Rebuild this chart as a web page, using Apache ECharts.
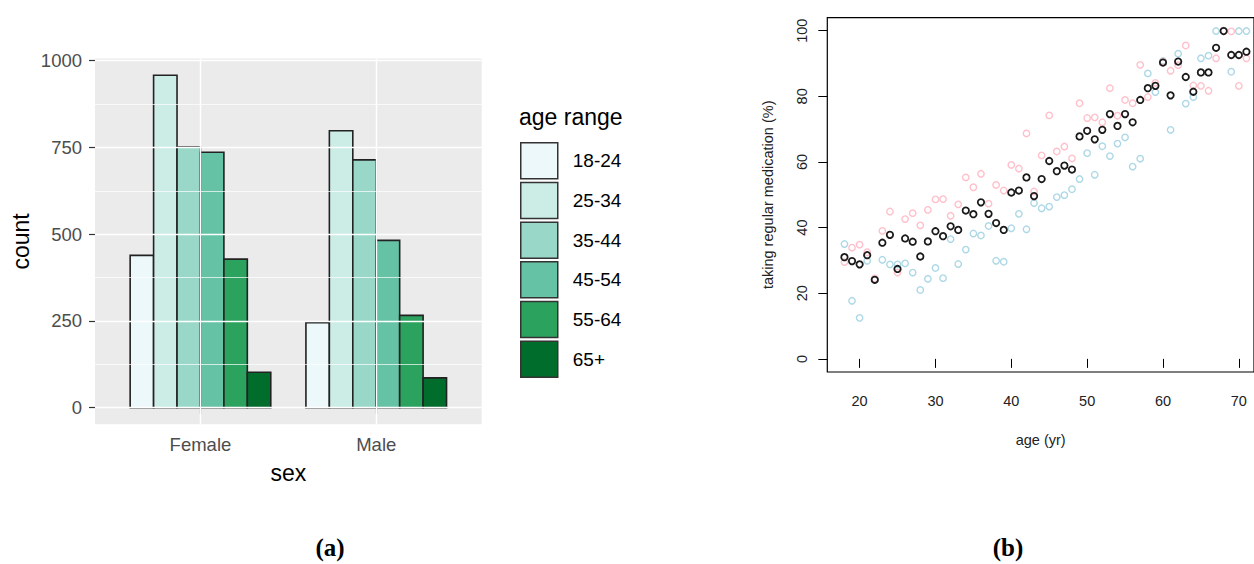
<!DOCTYPE html>
<html>
<head>
<meta charset="utf-8">
<script src="https://cdn.jsdelivr.net/npm/echarts@6/dist/echarts.min.js"></script>
<style>html,body{margin:0;padding:0;background:#fff}#c{width:1254px;height:564px}</style>
</head>
<body>
<div id="c"></div>
<script>
// ---- (a) bar chart data ----
const sexes = ['Female', 'Male'];
const ageRanges = ['18-24', '25-34', '35-44', '45-54', '55-64', '65+'];
const count_18_24 = [439, 245];
const count_25_34 = [958, 798];
const count_35_44 = [751, 714];
const count_45_54 = [736, 482];
const count_55_64 = [428, 266];
const count_65p = [102, 86];
const countTicks = [0, 250, 500, 750, 1000];
const countMinor = [125, 375, 625, 875];

// ---- (b) scatter data ----
const ages = [18,19,20,21,22,23,24,25,26,27,28,29,30,31,32,33,34,35,36,37,38,39,40,41,42,43,44,45,46,47,48,49,50,51,52,53,54,55,56,57,58,59,60,61,62,63,64,65,66,67,68,69,70,71];
const medAll = [31.0,29.8,28.8,31.6,24.1,35.4,37.8,27.4,36.7,35.7,31.2,35.8,38.9,37.4,40.4,39.3,45.2,44.1,47.7,44.2,41.4,39.3,50.7,51.3,55.3,49.6,54.8,60.3,57.2,58.9,57.7,67.8,69.5,66.9,69.8,74.6,71.0,74.6,72.1,78.9,82.5,83.2,90.3,80.3,90.6,85.9,81.4,87.3,87.3,94.8,99.9,92.6,92.6,93.6];
const medFemale = [29.5,33.9,34.8,32.5,24.5,39.0,44.9,26.3,42.6,44.4,40.7,45.4,48.6,48.7,43.6,47.1,55.3,52.3,56.4,47.3,53.0,51.3,59.1,58.0,68.7,51.0,62.0,74.2,63.2,64.7,61.1,77.9,73.4,73.6,72.1,82.5,74.1,78.9,77.9,89.6,79.8,84.1,90.6,87.8,89.5,95.5,83.3,83.2,81.7,91.6,100,99.8,83.2,91.6];
const medMale = [35.0,17.7,12.5,29.9,24.0,30.2,28.8,28.8,29.1,26.3,21.0,24.4,27.7,24.6,36.5,28.9,33.3,38.2,37.6,40.5,29.9,29.6,39.8,44.2,39.5,47.5,45.9,46.4,49.3,49.9,51.7,54.8,62.7,56.1,64.8,61.8,65.6,67.5,58.6,61.0,87.0,81.3,90.8,69.8,93.0,77.8,79.8,91.6,92.4,99.9,100,87.5,99.9,99.9];
const ageTicks = [20, 30, 40, 50, 60, 70];
const medTicks = [0, 20, 40, 60, 80, 100];

const counts = [count_18_24, count_25_34, count_35_44, count_45_54, count_55_64, count_65p];
const barColors = ['#EDF8FB', '#CCECE6', '#99D8C9', '#66C2A4', '#2CA25F', '#006D2C'];
const FONT = 'Liberation Sans, Arial, sans-serif';
const GROUP_W = 0.8;
const BAR_W = GROUP_W / ageRanges.length;

const chart = echarts.init(document.getElementById('c'), null, {renderer: 'svg'});

const barSeries = ageRanges.map((name, k) => ({
  type: 'custom',
  name: name,
  xAxisIndex: 0, yAxisIndex: 0,
  z: 3,
  itemStyle: {color: barColors[k]},
  encode: {x: 0, y: 1},
  data: sexes.map((s, i) => [i + 1, counts[k][i]]),
  renderItem: function (params, api) {
    const x0 = api.value(0) - GROUP_W / 2 + k * BAR_W;
    const p1 = api.coord([x0, api.value(1)]);
    const p2 = api.coord([x0 + BAR_W, 0]);
    return {
      type: 'rect',
      shape: {x: p1[0], y: p1[1], width: p2[0] - p1[0], height: p2[1] - p1[1]},
      style: {fill: barColors[k], stroke: '#222', lineWidth: 1.6}
    };
  }
}));

const gridSeries = {
  type: 'line', xAxisIndex: 0, yAxisIndex: 0, data: [], z: 1, silent: true,
  markLine: {
    silent: true, symbol: ['none', 'none'], animation: false,
    label: {show: false},
    data: [
      ...countMinor.map(v => ({yAxis: v, lineStyle: {color: '#fff', width: 0.7, type: 'solid'}})),
      ...countTicks.map(v => ({yAxis: v, lineStyle: {color: '#fff', width: 1.4, type: 'solid'}})),
      ...sexes.map((s, i) => ({xAxis: i + 1, lineStyle: {color: '#fff', width: 1.4, type: 'solid'}}))
    ]
  }
};

function scatter(name, data, color, bw, z) {
  return {
    type: 'scatter', name: name, xAxisIndex: 1, yAxisIndex: 1, z: z,
    symbol: 'circle', symbolSize: 6.4,
    itemStyle: {color: 'rgba(0,0,0,0)', borderColor: color, borderWidth: bw, opacity: 1},
    data: ages.map((a, i) => [a, data[i]])
  };
}

const option = {
  animation: false,
  backgroundColor: '#fff',
  textStyle: {fontFamily: FONT},
  title: [
    {text: 'age range', left: 519, top: 105, padding: 0,
     textStyle: {fontFamily: FONT, fontSize: 23, fontWeight: 'normal', color: '#000'}},
    {text: '{p|(}{b|a}{p|)}', left: 330, top: 535, padding: 0, textAlign: 'center',
     textStyle: {rich: {p: {fontFamily: 'Liberation Serif', fontSize: 25, color: '#000'},
                        b: {fontFamily: 'Liberation Serif', fontSize: 25, fontWeight: 'bold', color: '#000'}}}},
    {text: '{p|(}{b|b}{p|)}', left: 1008, top: 535, padding: 0, textAlign: 'center',
     textStyle: {rich: {p: {fontFamily: 'Liberation Serif', fontSize: 25, color: '#000'},
                        b: {fontFamily: 'Liberation Serif', fontSize: 25, fontWeight: 'bold', color: '#000'}}}}
  ],
  legend: {
    data: ageRanges,
    orient: 'vertical', left: 520, top: 142, padding: 0,
    itemWidth: 37, itemHeight: 36, itemGap: 2.2,
    icon: 'rect',
    itemStyle: {borderColor: '#333', borderWidth: 1.5},
    textStyle: {fontFamily: FONT, fontSize: 19, color: '#000', padding: [0, 0, 0, 10]},
    selectedMode: false
  },
  grid: [
    {left: 95, top: 58.6, width: 386.7, height: 365.7, show: true, backgroundColor: '#EBEBEB', borderWidth: 0},
    {left: 827.3, top: 17.6, width: 431.7, height: 354.4, show: true, backgroundColor: 'rgba(0,0,0,0)', borderColor: '#000', borderWidth: 1.2}
  ],
  xAxis: [
    {type: 'value', gridIndex: 0, min: 0.4, max: 2.6,
     axisLine: {show: false}, splitLine: {show: false},
     axisTick: {show: true, customValues: [1, 2], length: 6, lineStyle: {color: '#333', width: 1.2}},
     axisLabel: {customValues: [1, 2], formatter: v => sexes[Math.round(v) - 1], fontSize: 18.5, color: '#4D4D4D', margin: 11, fontFamily: FONT},
     name: 'sex', nameLocation: 'middle', nameGap: 37, nameTextStyle: {fontSize: 23, color: '#000', fontFamily: FONT}},
    {type: 'value', gridIndex: 1, min: 15.74, max: 72.0,
     axisLine: {show: false}, splitLine: {show: false},
     axisTick: {show: true, customValues: ageTicks, length: 9, lineStyle: {color: '#000', width: 1}},
     axisLabel: {customValues: ageTicks, formatter: v => String(v), fontSize: 14.5, color: '#222', margin: 21, fontFamily: FONT},
     name: 'age (yr)', nameLocation: 'middle', nameGap: 60, nameTextStyle: {fontSize: 14.5, color: '#222', fontFamily: FONT}}
  ],
  yAxis: [
    {type: 'value', gridIndex: 0, min: -47.9, max: 1005.9,
     axisLine: {show: false}, splitLine: {show: false},
     axisTick: {show: true, customValues: countTicks, length: 6, lineStyle: {color: '#333', width: 1.2}},
     axisLabel: {customValues: countTicks, formatter: v => String(v), fontSize: 18.5, color: '#4D4D4D', margin: 13, fontFamily: FONT},
     name: 'count', nameLocation: 'middle', nameGap: 63, nameTextStyle: {fontSize: 23, color: '#000', fontFamily: FONT}},
    {type: 'value', gridIndex: 1, min: -4, max: 104,
     axisLine: {show: false}, splitLine: {show: false},
     axisTick: {show: true, customValues: medTicks, length: 9, lineStyle: {color: '#000', width: 1}},
     axisLabel: {customValues: medTicks, formatter: v => String(v), fontSize: 14.5, color: '#222', margin: 18, rotate: 90, fontFamily: FONT},
     name: 'taking regular medication (%)', nameLocation: 'middle', nameGap: 52, nameTextStyle: {fontSize: 14.5, color: '#222', fontFamily: FONT}}
  ],
  series: [
    gridSeries,
    ...barSeries,
    scatter('male', medMale, '#ADD8E6', 1.4, 4),
    scatter('female', medFemale, '#FFC0CB', 1.4, 5),
    scatter('all', medAll, '#1a1a1a', 1.8, 6)
  ]
};
chart.setOption(option);
</script>
</body>
</html>
